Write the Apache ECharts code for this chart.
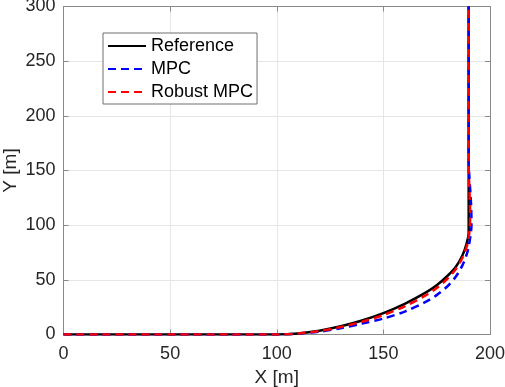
<!DOCTYPE html>
<html>
<head>
<meta charset="utf-8">
<script src="https://cdn.jsdelivr.net/npm/echarts@6/dist/echarts.min.js"></script>
<style>
  html, body { margin: 0; padding: 0; background: #fff; }
  #chart { width: 505px; height: 387px; }
</style>
</head>
<body>
<div id="chart"></div>
<script>
// reference path
var refX = [0, 100, 110, 120, 130, 140, 150, 160, 170, 175, 180, 184, 187, 189, 190, 190]
var refY = [0, 0, 1, 3.5, 7.5, 12.8, 19.5, 28, 38.5, 45, 53.5, 62, 72, 83, 93, 300]
// MPC
var mpcX = [0, 100, 110, 120, 130, 140, 150, 160, 170, 175, 180, 184, 187, 189.5, 190.8, 191.3, 191.2, 190.8, 190.3, 190, 190]
var mpcY = [0, 0, 0.8, 2.6, 5.8, 10, 14.6, 21, 30, 36, 44, 53, 63, 76, 90, 100, 115, 130, 145, 160, 300]
// Robust MPC
var rmpcX = [0, 100, 110, 120, 130, 140, 150, 160, 170, 175, 180, 184, 187, 189.3, 190.4, 190.7, 190.5, 190.2, 190, 190]
var rmpcY = [0, 0, 0.9, 3.1, 6.8, 11.7, 17.7, 25.8, 36, 42.5, 51, 60, 70, 82, 95, 110, 125, 140, 155, 300]

var xTicks = [0, 50, 100, 150, 200]
var yTicks = [0, 50, 100, 150, 200, 250, 300]

function pairs (xs, ys) {
  return xs.map(function (x, i) { return [x, ys[i]] })
}

var font = 'Liberation Sans'
var axisColor = '#8a8a8a'
var textColor = '#262626'

var chart = echarts.init(document.getElementById('chart'))

function boxAxis (extra) {
  return Object.assign({
    type: 'value',
    axisLine: { show: true, onZero: false, lineStyle: { color: axisColor, width: 1 } },
    axisTick: { show: true, inside: true, length: 5, lineStyle: { color: axisColor } },
    splitLine: { show: false },
    axisLabel: { show: false }
  }, extra)
}

chart.setOption({
  animation: false,
  grid: { left: 63.5, right: 15, top: 6.5, bottom: 52.5, outerBoundsMode: 'none', containLabel: false },
  legend: {
    orient: 'vertical',
    left: 103,
    top: 33,
    padding: [4, 4, 3, 4],
    itemWidth: 38,
    itemHeight: 17,
    itemGap: 5,
    backgroundColor: '#fff',
    borderColor: '#6e6e6e',
    borderWidth: 1,
    borderRadius: 0,
    itemStyle: { opacity: 0 },
    textStyle: { fontFamily: font, fontSize: 18, color: '#000' },
    data: ['Reference', 'MPC', 'Robust MPC']
  },
  xAxis: [
    boxAxis({
      min: 0, max: 200, interval: 50,
      name: 'X [m]', nameLocation: 'middle', nameGap: 34, nameMoveOverlap: false,
      nameTextStyle: { fontFamily: font, fontSize: 19, color: textColor },
      axisLabel: {
        show: true, margin: 11, fontFamily: font, fontSize: 18, color: textColor,
        formatter: function (v) { return xTicks.indexOf(v) >= 0 ? String(v) : '' }
      },
      splitLine: { show: true, lineStyle: { color: '#e6e6e6', width: 1 } }
    }),
    boxAxis({ min: 0, max: 200, interval: 50, position: 'top' })
  ],
  yAxis: [
    boxAxis({
      min: 0, max: 300, interval: 50,
      name: 'Y [m]', nameLocation: 'middle', nameGap: 43, nameMoveOverlap: false,
      nameTextStyle: { fontFamily: font, fontSize: 19, color: textColor },
      axisLabel: {
        show: true, margin: 8, fontFamily: font, fontSize: 18, color: textColor,
        formatter: function (v) { return yTicks.indexOf(v) >= 0 ? String(v) : '' }
      },
      splitLine: { show: true, lineStyle: { color: '#e6e6e6', width: 1 } }
    }),
    boxAxis({ min: 0, max: 300, interval: 50, position: 'right' })
  ],
  series: [
    {
      name: 'Reference',
      type: 'line',
      data: pairs(refX, refY),
      smooth: 0.3,
      symbol: 'none',
      lineStyle: { color: '#000', width: 2.5 },
      itemStyle: { color: '#000' },
      z: 3
    },
    {
      name: 'MPC',
      type: 'line',
      data: pairs(mpcX, mpcY),
      smooth: 0.3,
      symbol: 'none',
      lineStyle: { color: '#0000ff', width: 2.5, type: [8, 5] },
      itemStyle: { color: '#0000ff' },
      z: 4
    },
    {
      name: 'Robust MPC',
      type: 'line',
      data: pairs(rmpcX, rmpcY),
      smooth: 0.3,
      symbol: 'none',
      lineStyle: { color: '#ff0000', width: 2.5, type: [8, 5] },
      itemStyle: { color: '#ff0000' },
      z: 5
    }
  ]
})
</script>
</body>
</html>
